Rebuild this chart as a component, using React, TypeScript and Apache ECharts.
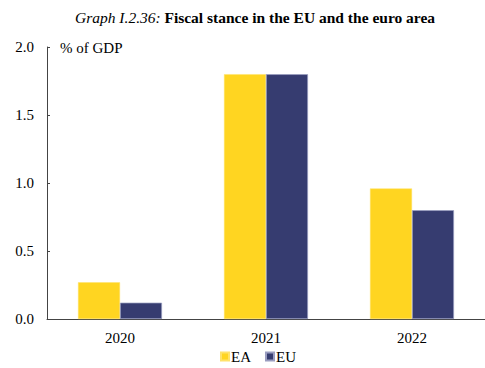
import React, { useEffect, useRef } from "react";
import * as echarts from "echarts";

const categories = ["2020", "2021", "2022"];
const eaValues = [0.27, 1.8, 0.96];
const euValues = [0.12, 1.8, 0.8];
const yTicks = { min: 0, max: 2, interval: 0.5 };

const FONT = "Liberation Serif";

export default function App() {
  const ref = useRef<HTMLDivElement>(null);
  useEffect(() => {
    if (!ref.current) return;
    const chart = echarts.init(ref.current, null, { renderer: "svg" });
    chart.setOption({
      animation: false,
      backgroundColor: "#ffffff",
      textStyle: { fontFamily: FONT },
      title: {
        text: "{i|Graph I.2.36:} {b|Fiscal stance in the EU and the euro area}",
        left: 70,
        top: 4,
        textStyle: {
          fontFamily: FONT,
          fontWeight: "normal",
          fontSize: 15,
          rich: {
            i: { fontFamily: FONT, fontStyle: "italic", fontWeight: "normal", fontSize: 15.5, color: "#000" },
            b: { fontFamily: FONT, fontWeight: "bold", fontSize: 15.5, color: "#000" },
          },
        },
      },
      legend: {
        data: ["EA", "EU"],
        left: 215,
        bottom: -1,
        icon: "rect",
        itemWidth: 8,
        itemHeight: 8,
        itemGap: 14,
        textStyle: { fontFamily: FONT, fontSize: 15, color: "#000", padding: [0, 0, 0, -3] },
      },
      grid: { left: 47, right: -3, top: 47, bottom: 49 },
      xAxis: {
        type: "category",
        data: categories,
        axisLine: { lineStyle: { color: "#444", width: 1 } },
        axisTick: { inside: true, length: 4, alignWithLabel: false, lineStyle: { color: "#444" } },
        axisLabel: { fontFamily: FONT, fontSize: 15, color: "#000", margin: 11 },
      },
      yAxis: {
        type: "value",
        min: yTicks.min,
        max: yTicks.max,
        interval: yTicks.interval,
        axisLine: { show: true, lineStyle: { color: "#444", width: 1 } },
        axisTick: { show: true, inside: true, length: 3, lineStyle: { color: "#444" } },
        splitLine: { show: false },
        axisLabel: {
          fontFamily: FONT,
          fontSize: 15,
          color: "#000",
          margin: 13,
          formatter: (v: number) => v.toFixed(1),
        },
      },
      graphic: [
        {
          type: "text",
          left: 60,
          top: 40,
          style: { text: "% of GDP", fontFamily: FONT, fontSize: 15, fill: "#000" },
        },
      ],
      series: [
        {
          name: "EA",
          type: "bar",
          data: eaValues,
          barWidth: 42,
          barGap: "0%",
          itemStyle: { color: "#FFD521", borderColor: "#FFE26A", borderWidth: 0.5 },
        },
        {
          name: "EU",
          type: "bar",
          data: euValues,
          barWidth: 42,
          barGap: "0%",
          itemStyle: { color: "#363C70", borderColor: "#9A9DC0", borderWidth: 0.7 },
        },
      ],
    });
    return () => chart.dispose();
  }, []);
  return <div ref={ref} style={{ width: 485, height: 368, position: "absolute", left: 0, top: 0 }} />;
}
